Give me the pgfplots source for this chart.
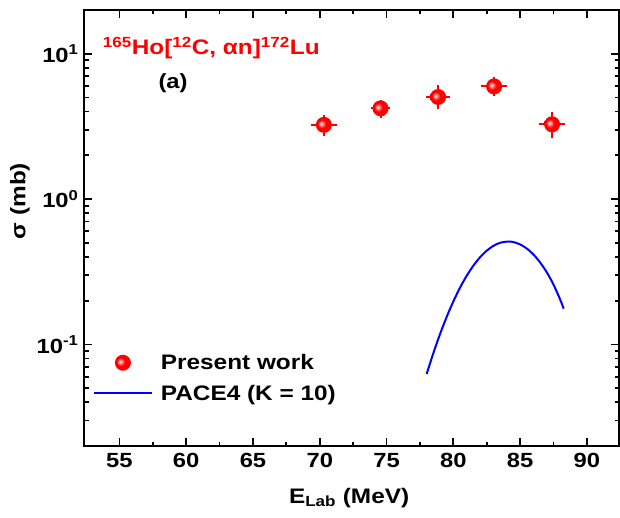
\documentclass[border=0pt]{standalone}
\usepackage{fontspec}
\setmainfont[FakeStretch=1.16]{Liberation Sans}
\usepackage{pgfplots}
\pgfplotsset{compat=1.18}
\newcommand{\bigbf}{\fontsize{20.5}{24}\selectfont\bfseries}
\newcommand{\labf}{\fontsize{21}{25}\selectfont\bfseries}
\pgfdeclareradialshading{redballshade}{\pgfpoint{-9bp}{4bp}}{color(0bp)=(white); color(5bp)=(red!45!white); color(13bp)=(red); color(40bp)=(red); color(50bp)=(red!90!black)}
\pgfdeclareplotmark{redball}{\pgfpathcircle{\pgfpointorigin}{\pgfplotmarksize}\pgfshadepath{redballshade}{0}\pgfusepath{discard}}
\pgfplotsset{
  ballleg/.style={legend image code/.code={\draw[##1] plot coordinates {(29pt,0pt)};}},
  lineleg/.style={legend image code/.code={\draw[##1] (0pt,0pt) -- (58pt,0pt);}},
}
\begin{document}
\begin{tikzpicture}
\begin{axis}[
  scale only axis, width=535pt, height=436pt,
  xmin=52.35, xmax=92.4,
  ymode=log, ymin=0.02, ymax=20,
  axis line style={line width=2pt},
  every tick/.style={black, line width=1.8pt},
  tick align=inside,
  major tick length=8pt, minor tick length=4.5pt,
  xtick={55,60,65,70,75,80,85,90},
  xticklabels={\textbf{55},\textbf{60},\textbf{65},\textbf{70},\textbf{75},\textbf{80},\textbf{85},\textbf{90}},
  minor x tick num=1,
  ytick={0.1,1,10},
  yticklabels={\textbf{10\textsuperscript{-1}},\textbf{10\textsuperscript{0}},\textbf{10\textsuperscript{1}}},
  minor ytick={0.03,0.04,0.05,0.06,0.07,0.08,0.09,0.2,0.3,0.4,0.5,0.6,0.7,0.8,0.9,2,3,4,5,6,7,8,9},
  ticklabel style={font=\bigbf},
  xticklabel style={yshift=-4pt},
  yticklabel style={xshift=-2pt},
  xlabel={E\textsubscript{Lab} (MeV)},
  ylabel={σ (mb)},
  label style={font=\labf},
  xlabel style={at={(axis description cs:0.4955,0)}, anchor=base, yshift=-57pt},
  ylabel style={at={(axis description cs:-0.1196,0.5620)}, anchor=center, rotate=0},
  legend style={draw=none, fill=none, font=\labf, at={(axis description cs:0.0163,0.2106)}, anchor=north west, row sep=14pt, column sep=8pt, inner sep=0pt, nodes={inner sep=0pt}},
  legend cell align=left,
  clip=false,
]
\addplot[only marks, mark=redball, mark size=8pt, ballleg,
  error bars/.cd, x dir=both, x explicit, y dir=both, y explicit,
  error bar style={line width=2pt, red},
  error mark options={line width=2pt, red, mark size=4.5pt}]
  table[x=x, y=y, x error=ex, y error=ey] {
x      y     ex    ey
70.31  3.24  0.66  0.30
74.55  4.21  0.40  0.30
78.86  5.04  0.55  0.60
83.05  5.96  0.66  0.50
87.39  3.27  0.66  0.45
};
\addlegendentry{Present work}
\addplot[blue, line width=2pt, smooth, no marks, lineleg] table[x=x, y=y] {
x      y
78.00  0.0626
78.50  0.0870
79.00  0.1177
79.50  0.1547
80.00  0.1978
80.50  0.2458
81.00  0.2970
81.50  0.3486
82.00  0.3981
82.50  0.4418
83.00  0.4770
83.50  0.5003
84.10  0.5105
84.50  0.5060
85.00  0.4875
85.50  0.4564
86.00  0.4150
86.50  0.3660
87.00  0.3128
87.50  0.2576
88.00  0.2032
88.26  0.1760
};
\addlegendentry{PACE4 (K = 10)}
\node[red, anchor=base west, font=\labf] at (rel axis cs:0.0286,0.897) {\textsuperscript{165}Ho[\textsuperscript{12}C, αn]\textsuperscript{172}Lu};
\node[black, anchor=base west, font=\bigbf] at (rel axis cs:0.1327,0.82) {(a)};
\end{axis}
\pgfresetboundingbox
\path[use as bounding box] (-84pt,-71pt) rectangle (536pt,446pt);
\end{tikzpicture}
\end{document}
